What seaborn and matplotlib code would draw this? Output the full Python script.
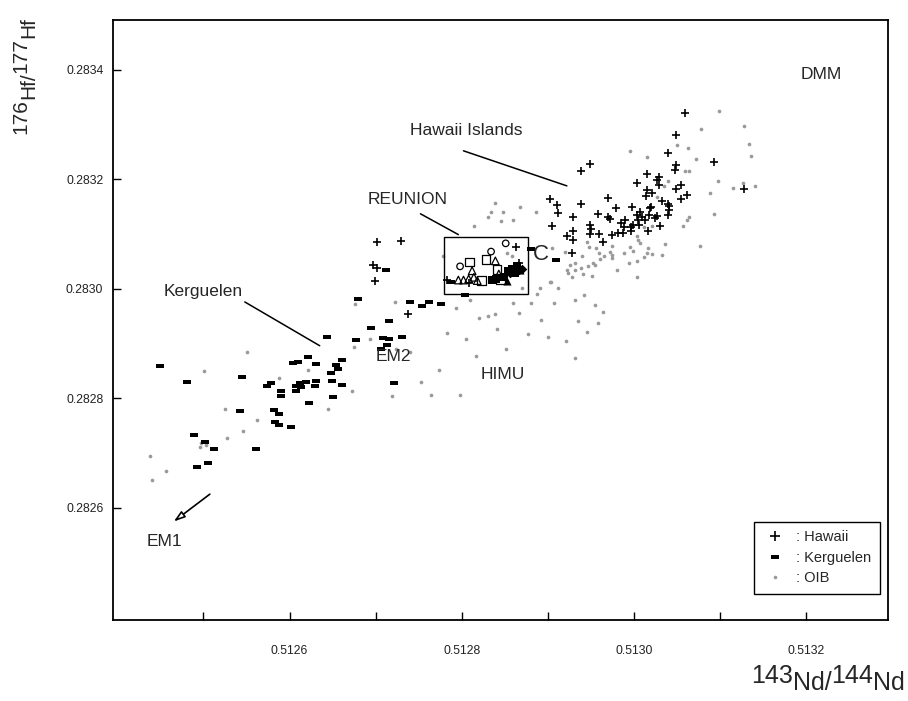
import matplotlib
matplotlib.use("Agg")
import matplotlib.pyplot as plt
from matplotlib.lines import Line2D
from matplotlib.patches import Rectangle
import pandas as pd
import seaborn as sns


# ── Data ──
hawaii_nd = [
    0.513059, 0.513049, 0.513039, 0.513093, 0.513049, 0.513048, 0.512949, 0.512939,
    0.513015, 0.513004, 0.513029, 0.513027, 0.513029, 0.513015, 0.513014, 0.513021,
    0.513055, 0.513049, 0.513061, 0.513055, 0.513128, 0.512970, 0.512939, 0.512911,
    0.512912, 0.512929, 0.512905, 0.512929, 0.512922, 0.512929, 0.512928, 0.512958,
    0.512970, 0.512972, 0.512979, 0.512998, 0.513020, 0.513032, 0.513040, 0.513041,
    0.513041, 0.513039, 0.513027, 0.513019, 0.513007, 0.513004, 0.513009, 0.513005,
    0.512999, 0.512996, 0.512997, 0.512990, 0.512985, 0.512988, 0.512981, 0.512974,
    0.512987, 0.512949, 0.512950, 0.512949, 0.512959, 0.512964, 0.513016, 0.513030,
    0.513013, 0.513006, 0.513024, 0.513017, 0.512701, 0.512729, 0.512697, 0.512701,
    0.512699, 0.512738, 0.512902, 0.512863, 0.512867, 0.512783, 0.512808,
]
hawaii_hf = [
    0.283321, 0.283281, 0.283248, 0.283231, 0.283226, 0.283217, 0.283228, 0.283215,
    0.283210, 0.283193, 0.283205, 0.283199, 0.283189, 0.283181, 0.283170, 0.283175,
    0.283190, 0.283182, 0.283172, 0.283164, 0.283183, 0.283165, 0.283155, 0.283153,
    0.283138, 0.283132, 0.283114, 0.283106, 0.283096, 0.283089, 0.283066, 0.283137,
    0.283131, 0.283128, 0.283147, 0.283150, 0.283150, 0.283161, 0.283155, 0.283144,
    0.283152, 0.283134, 0.283133, 0.283147, 0.283141, 0.283135, 0.283132, 0.283126,
    0.283117, 0.283112, 0.283105, 0.283126, 0.283120, 0.283112, 0.283102, 0.283099,
    0.283102, 0.283117, 0.283109, 0.283100, 0.283100, 0.283085, 0.283105, 0.283114,
    0.283126, 0.283117, 0.283129, 0.283135, 0.283085, 0.283088, 0.283044, 0.283038,
    0.283015, 0.282954, 0.283164, 0.283076, 0.283047, 0.283016, 0.283010,
]

kerguelen_nd = [
    0.512449, 0.512481, 0.512545, 0.512542, 0.512489, 0.512502, 0.512512, 0.512561,
    0.512574, 0.512579, 0.512590, 0.512590, 0.512582, 0.512588, 0.512583, 0.512588,
    0.512602, 0.512604, 0.512610, 0.512621, 0.512631, 0.512607, 0.512612, 0.512613,
    0.512607, 0.512619, 0.512631, 0.512630, 0.512622, 0.512644, 0.512648, 0.512649,
    0.512654, 0.512656, 0.512661, 0.512661, 0.512651, 0.512677, 0.512680, 0.512694,
    0.512708, 0.512716, 0.512716, 0.512712, 0.512706, 0.512713, 0.512721, 0.512492,
    0.512505, 0.512740, 0.512754, 0.512762, 0.512776, 0.512804, 0.512788, 0.512880,
    0.512909, 0.512731,
]
kerguelen_hf = [
    0.282859, 0.282830, 0.282838, 0.282776, 0.282733, 0.282721, 0.282708, 0.282708,
    0.282823, 0.282828, 0.282814, 0.282805, 0.282779, 0.282772, 0.282757, 0.282751,
    0.282747, 0.282865, 0.282866, 0.282875, 0.282863, 0.282822, 0.282828, 0.282821,
    0.282813, 0.282829, 0.282831, 0.282823, 0.282792, 0.282912, 0.282846, 0.282831,
    0.282861, 0.282854, 0.282870, 0.282824, 0.282803, 0.282906, 0.282982, 0.282929,
    0.282911, 0.282908, 0.282942, 0.283035, 0.282890, 0.282897, 0.282828, 0.282675,
    0.282681, 0.282976, 0.282968, 0.282976, 0.282972, 0.282989, 0.283012, 0.283072,
    0.283053, 0.282912,
]

oib_nd = [
    # lower-left
    0.512438, 0.512457, 0.512440, 0.512497, 0.512503, 0.512496, 0.512501, 0.512550,
    0.512525, 0.512527, 0.512546, 0.512562, 0.512588, 0.512621, 0.512645, 0.512673,
    0.512675, 0.512676, 0.512693, 0.512722, 0.512719, 0.512724,
    # upper-middle
    0.512814, 0.512834, 0.512831, 0.512838, 0.512848, 0.512868, 0.512886, 0.512846,
    0.512860, 0.512778, 0.512853, 0.512858, 0.512870, 0.512891, 0.512887, 0.512904,
    0.512907, 0.512912, 0.512831, 0.512839, 0.512905, 0.512920, 0.512922,
    # right
    0.513099, 0.513128, 0.513078, 0.513133, 0.513136, 0.513050, 0.513063, 0.512995,
    0.513015, 0.513072, 0.513059, 0.513064, 0.513098, 0.513115, 0.513126, 0.513141,
    0.513088, 0.513040, 0.513035, 0.513093, 0.513064, 0.513062, 0.513057, 0.513077,
    0.513036, 0.513032, 0.513021, 0.513016, 0.513015, 0.513012, 0.513005, 0.513007,
    0.512999, 0.513003, 0.512994, 0.512988, 0.512980, 0.512975, 0.512972, 0.512974,
    0.512965, 0.512961, 0.512959, 0.512956, 0.512948, 0.512952, 0.512955, 0.512947,
    0.512941, 0.512938, 0.512940, 0.512932, 0.512926, 0.512931, 0.512923, 0.512928,
    0.512951, 0.513003, 0.512995, 0.512974, 0.513027, 0.513021, 0.513012, 0.513004,
    0.512945, 0.512903,
    # lower-middle
    0.512740, 0.512764, 0.512753, 0.512783, 0.512805, 0.512816, 0.512820, 0.512841,
    0.512851, 0.512867, 0.512877, 0.512892, 0.512900, 0.512921, 0.512932, 0.512935,
    0.512945, 0.512955, 0.512964, 0.512958, 0.512931, 0.512942, 0.512798, 0.512773,
    0.512793, 0.512810, 0.512860, 0.512880,
]
oib_hf = [
    0.282694, 0.282668, 0.282651, 0.282718, 0.282715, 0.282711, 0.282850, 0.282884,
    0.282781, 0.282728, 0.282741, 0.282761, 0.282837, 0.282852, 0.282781, 0.282814,
    0.282893, 0.282972, 0.282909, 0.282975, 0.282805, 0.282890,
    0.283114, 0.283140, 0.283132, 0.283156, 0.283141, 0.283149, 0.283141, 0.283123,
    0.283125, 0.283059, 0.283065, 0.283060, 0.283002, 0.283001, 0.282990, 0.283012,
    0.282974, 0.283001, 0.282951, 0.282954, 0.283074, 0.283067, 0.283035,
    0.283324, 0.283298, 0.283292, 0.283264, 0.283243, 0.283262, 0.283258, 0.283251,
    0.283240, 0.283237, 0.283216, 0.283216, 0.283197, 0.283184, 0.283193, 0.283187,
    0.283175, 0.283197, 0.283188, 0.283136, 0.283132, 0.283126, 0.283115, 0.283079,
    0.283082, 0.283061, 0.283064, 0.283074, 0.283065, 0.283058, 0.283089, 0.283083,
    0.283069, 0.283050, 0.283047, 0.283066, 0.283035, 0.283062, 0.283068, 0.283056,
    0.283059, 0.283054, 0.283065, 0.283074, 0.283077, 0.283047, 0.283044, 0.283041,
    0.283027, 0.283038, 0.283060, 0.283048, 0.283044, 0.283035, 0.283029, 0.283021,
    0.283024, 0.283021, 0.283076, 0.283079, 0.283167, 0.283114, 0.283113, 0.283096,
    0.283085, 0.283013,
    0.282885, 0.282806, 0.282830, 0.282920, 0.282909, 0.282878, 0.282947, 0.282927,
    0.282890, 0.282956, 0.282918, 0.282943, 0.282912, 0.282905, 0.282874, 0.282942,
    0.282922, 0.282971, 0.282958, 0.282938, 0.282980, 0.282989, 0.282806, 0.282852,
    0.282965, 0.282980, 0.282974, 0.282974,
]

# Reunion symbols inside the inset box
reu_circle_nd = [0.512851, 0.512834, 0.512798]
reu_circle_hf = [0.283083, 0.283068, 0.283041]
reu_osq_nd = [0.512809, 0.512828, 0.512841, 0.512823, 0.512845]
reu_osq_hf = [0.283049, 0.283053, 0.283035, 0.283015, 0.283016]
reu_otri_nd = [0.512839, 0.512812, 0.512814, 0.512796, 0.512802, 0.512808, 0.512843, 0.512818]
reu_otri_hf = [0.283051, 0.283033, 0.283021, 0.283016, 0.283016, 0.283018, 0.283027, 0.283015]
reu_fsq_nd = [0.512835, 0.512854, 0.512858, 0.512864, 0.512840, 0.512849, 0.512862]
reu_fsq_hf = [0.283016, 0.283032, 0.283036, 0.283041, 0.283018, 0.283022, 0.283029]
reu_ftri_nd = [0.512853, 0.512868]
reu_ftri_hf = [0.283015, 0.283035]
reu_dia_nd = [0.512860, 0.512866, 0.512856, 0.512870]
reu_dia_hf = [0.283032, 0.283035, 0.283029, 0.283036]

reunion_box = (0.512779, 0.282991, 0.000098, 0.000103)  # x0, y0, w, h

x_major = [0.5126, 0.5128, 0.5130, 0.5132]
x_minor = [0.5125, 0.5127, 0.5129, 0.5131]
y_major = [0.2826, 0.2828, 0.2830, 0.2832, 0.2834]

# axis titles: (text, lowered?) in reading order
xlabel_parts = [("143", False), ("Nd/", True), ("144", False), ("Nd", True)]
ylabel_parts = [("176", False), ("Hf/", True), ("177", False), ("Hf", True)]

# flat black bar used for Kerguelen
DASH = [(-1, -0.5), (1, -0.5), (1, 0.5), (-1, 0.5), (-1, -0.5)]


def stacked_label(ax, parts, xy, fontsize, drop, vertical=False):
    """Isotope label drawn the old way: mass number up, element symbol dropped."""
    rev = parts[::-1]
    common = dict(fontsize=fontsize, textcoords="offset points", annotation_clip=False)
    if vertical:
        common.update(rotation=90, ha="left", va="top")
    else:
        common.update(ha="right", va="bottom")

    txt, low = rev[0]
    off = (drop if (vertical and low) else 0, 0)
    prev = ax.annotate(txt, xy=xy, xycoords="figure fraction", xytext=off, **common)
    prev_low = low
    for txt, low in rev[1:]:
        step = 0 if low == prev_low else (drop if low else -drop)
        off = (step, 0) if vertical else (0, -step)
        prev = ax.annotate(txt, xy=(0, 0), xycoords=prev, xytext=off, **common)
        prev_low = low


def main():
    sns.set_theme(style="ticks")
    plt.rcParams["font.family"] = ["Liberation Sans", "DejaVu Sans"]

    fig = plt.figure(figsize=(9.08, 7.01), dpi=100)
    ax = fig.add_axes([0.1245, 0.1155, 0.8535, 0.856])

    oib = pd.DataFrame({"nd": oib_nd, "hf": oib_hf})
    ker = pd.DataFrame({"nd": kerguelen_nd, "hf": kerguelen_hf})
    haw = pd.DataFrame({"nd": hawaii_nd, "hf": hawaii_hf})

    sns.scatterplot(data=oib, x="nd", y="hf", ax=ax, color="#9a9a9a", s=7,
                    linewidth=0, zorder=2)
    sns.scatterplot(data=ker, x="nd", y="hf", ax=ax, color="black", marker=DASH,
                    s=26, linewidth=0, zorder=3)
    sns.scatterplot(data=haw, x="nd", y="hf", ax=ax, color="black", marker="+",
                    s=40, linewidth=1.2, zorder=4)

    # ── Reunion inset ──
    open_kw = dict(ax=ax, color="black", facecolor="none", edgecolor="black",
                   linewidth=0.9, zorder=5)
    sns.scatterplot(x=reu_circle_nd, y=reu_circle_hf, marker="o", s=22, **open_kw)
    sns.scatterplot(x=reu_osq_nd, y=reu_osq_hf, marker="s", s=40, **open_kw)
    sns.scatterplot(x=reu_otri_nd, y=reu_otri_hf, marker="^", s=30, **open_kw)
    sns.scatterplot(x=reu_fsq_nd, y=reu_fsq_hf, marker="s", s=30, color="black",
                    linewidth=0, ax=ax, zorder=5)
    sns.scatterplot(x=reu_ftri_nd, y=reu_ftri_hf, marker="^", s=34, color="black",
                    linewidth=0, ax=ax, zorder=5)
    sns.scatterplot(x=reu_dia_nd, y=reu_dia_hf, marker="D", s=24, color="black",
                    linewidth=0, ax=ax, zorder=5)
    x0, y0, w, h = reunion_box
    ax.add_patch(Rectangle((x0, y0), w, h, fill=False, edgecolor="black",
                           linewidth=1.0, zorder=6))

    # ── Annotations ──
    fs = 12.5
    ax.text(0.513218, 0.283391, "DMM", fontsize=fs, ha="center", va="center")
    ax.text(0.512740, 0.283289, "Hawaii Islands", fontsize=fs, ha="left", va="center")
    ax.plot([0.512802, 0.512922], [0.283252, 0.283188], color="black", lw=1.1)
    ax.text(0.512737, 0.283163, "REUNION", fontsize=fs, ha="center", va="center")
    ax.plot([0.512752, 0.512796], [0.283137, 0.283099], color="black", lw=1.1)
    ax.text(0.512892, 0.283063, "C", fontsize=16, ha="center", va="center")
    ax.text(0.512500, 0.282995, "Kerguelen", fontsize=fs, ha="center", va="center")
    ax.plot([0.512548, 0.512635], [0.282976, 0.282896], color="black", lw=1.1)
    ax.text(0.512721, 0.282876, "EM2", fontsize=fs, ha="center", va="center")
    ax.text(0.512848, 0.282843, "HIMU", fontsize=fs, ha="center", va="center")
    ax.text(0.512455, 0.282538, "EM1", fontsize=fs, ha="center", va="center")
    ax.annotate("", xy=(0.512463, 0.282572), xytext=(0.512510, 0.282628),
                arrowprops=dict(arrowstyle="-|>,head_length=0.55,head_width=0.18",
                                color="black", fc="white", lw=1.2))

    # ── Axes ──
    ax.set_xlim(0.512395, 0.513295)
    ax.set_ylim(0.282395, 0.283491)
    ax.set_xticks(x_major)
    ax.set_xticks(x_minor, minor=True)
    ax.set_xticklabels([f"{v:.4f}" for v in x_major])
    ax.set_yticks(y_major)
    ax.set_yticklabels([f"{v:.4f}" for v in y_major])
    ax.tick_params(axis="both", which="both", direction="in", length=6, width=1,
                   color="black", labelsize=8.8, labelcolor="#222222")
    ax.tick_params(axis="x", which="both", pad=18)
    ax.tick_params(axis="y", pad=7)
    ax.set_xlabel("")
    ax.set_ylabel("")
    for sp in ax.spines.values():
        sp.set_visible(True)
        sp.set_color("black")
        sp.set_linewidth(1.3)

    # legend
    handles = [
        Line2D([], [], ls="none", marker="+", color="black", ms=6.5, mew=1.2),
        Line2D([], [], ls="none", marker=DASH, color="black", ms=5.2, mew=0),
        Line2D([], [], ls="none", marker="o", color="#9a9a9a", ms=2.6, mew=0),
    ]
    leg = ax.legend(handles, [": Hawaii", ": Kerguelen", ": OIB"],
                    loc="lower right", bbox_to_anchor=(0.99, 0.043), borderaxespad=0,
                    fontsize=10.5, frameon=True, fancybox=False, framealpha=1,
                    handlelength=1.6, handletextpad=0.7, labelspacing=0.45,
                    borderpad=0.6)
    leg.get_frame().set_edgecolor("black")
    leg.get_frame().set_linewidth(1.0)

    stacked_label(ax, xlabel_parts, (0.9967, 0.008), fontsize=18, drop=5)
    stacked_label(ax, ylabel_parts, (0.012, 0.976), fontsize=15, drop=6, vertical=True)

    fig.savefig("out.png", dpi=100)
    plt.close(fig)


if __name__ == "__main__":
    main()
